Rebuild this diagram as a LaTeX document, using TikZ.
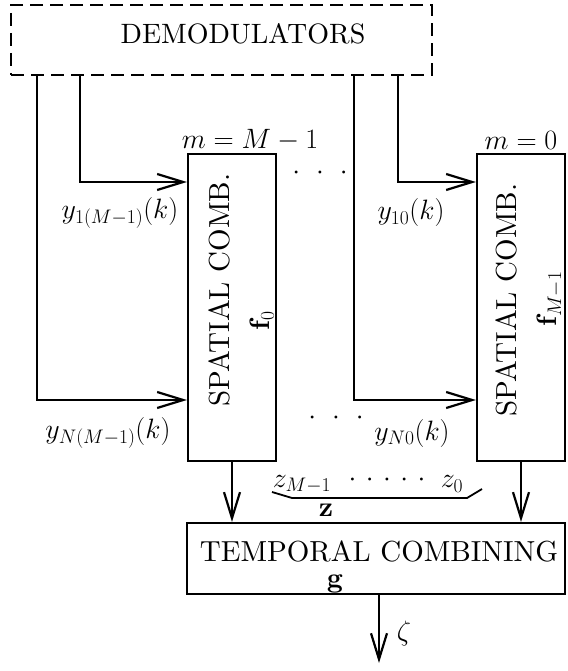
\RequirePackage{fix-cm}
\documentclass[tikz,border=0pt]{standalone}
\usepackage{fontspec}
\setmainfont{lmroman10-regular}[Extension=.otf,BoldFont=lmroman10-bold,ItalicFont=lmroman10-italic]
\usetikzlibrary{arrows.meta}
\begin{document}
\begin{tikzpicture}[x=1pt,y=-1pt,line width=2.2pt,
  arr/.style={-{Straight Barb[length=26pt,width=16pt,line width=2.2pt]}},
  blk/.style={draw,minimum width=88pt,minimum height=307pt,inner sep=0pt},
  txt/.style={font=\fontsize{29}{32}\selectfont,inner sep=0pt},
  lbl/.style={font=\fontsize{28}{31}\selectfont,inner sep=0pt}]
\useasboundingbox (0,0) rectangle (567,671);
% blocks
\node[draw,dash pattern=on 13pt off 7pt,minimum width=421pt,minimum height=70pt,inner sep=0pt] (dem) at (221.5,40) {};
\node[txt,font=\fontsize{28}{31}\selectfont] (demt) at (243,34) {DEMODULATORS};
\node[blk] (sc1) at (232,307.5) {};
\node[blk] (sc2) at (521,307.5) {};
\node[draw,minimum width=378pt,minimum height=71pt,inner sep=0pt] (tc) at (376,558.5) {};
% texts in blocks
\node[txt,rotate=90] (s1) at (219,290) {SPATIAL COMB.};
\node[lbl,rotate=90] (f1) at (262,321) {$\mathbf{f}_0$};
\node[txt,rotate=90] (s2) at (506,300) {SPATIAL COMB.};
\node[lbl,rotate=90] (f2) at (550,299) {$\mathbf{f}_{M-1}$};
\node[txt] (tct) at (379,551) {TEMPORAL COMBINING};
\node[lbl,anchor=base] (g) at (335,587) {$\mathbf{g}$};
% start points
\coordinate (d1) at (37,0 |- dem.south);
\coordinate (d2) at (80,0 |- dem.south);
\coordinate (d3) at (354,0 |- dem.south);
\coordinate (d4) at (398,0 |- dem.south);
\coordinate (out) at (379,663);
% connectors
\draw[arr] (d2) |- (sc1.west |- 0,182);
\draw[arr] (d1) |- (sc1.west |- 0,400);
\draw[arr] (d4) |- (sc2.west |- 0,182);
\draw[arr] (d3) |- (sc2.west |- 0,400);
\draw[arr] (sc1.south) -- (sc1.south |- tc.north);
\draw[arr] (sc2.south) -- (sc2.south |- tc.north);
\draw[arr] (out |- tc.south) -- (out);
% labels
\node[lbl] (mM) at (250,140) {$m = M-1$};
\node[lbl] (m0) at (521,140) {$m = 0$};
\node[lbl] (y1M) at (120,213) {$y_{1(M-1)}(k)$};
\node[lbl] (y10) at (411,213) {$y_{10}(k)$};
\node[lbl] (yNM) at (108,433) {$y_{N(M-1)}(k)$};
\node[lbl] (yN0) at (412,433) {$y_{N0}(k)$};
\node[lbl] (dt) at (320,173) {$\cdot$\hspace{16pt}$\cdot$\hspace{16pt}$\cdot$};
\node[lbl] (db) at (336,418) {$\cdot$\hspace{16pt}$\cdot$\hspace{16pt}$\cdot$};
\node[lbl] (zM) at (302,484) {$z_{M-1}$};
\node[lbl] (zd) at (387,480) {$\cdot$\hspace{9.5pt}$\cdot$\hspace{9.5pt}$\cdot$\hspace{9.5pt}$\cdot$\hspace{9.5pt}$\cdot$};
\node[lbl] (z0) at (452,484) {$z_0$};
\draw[line width=1.8pt] (272,492) -- (292,498) -- (467,498) -- (482,489);
\node[lbl] (zb) at (326,510) {$\mathbf{z}$};
\node[lbl] (zeta) at (404,633) {$\zeta$};
\end{tikzpicture}
\end{document}
